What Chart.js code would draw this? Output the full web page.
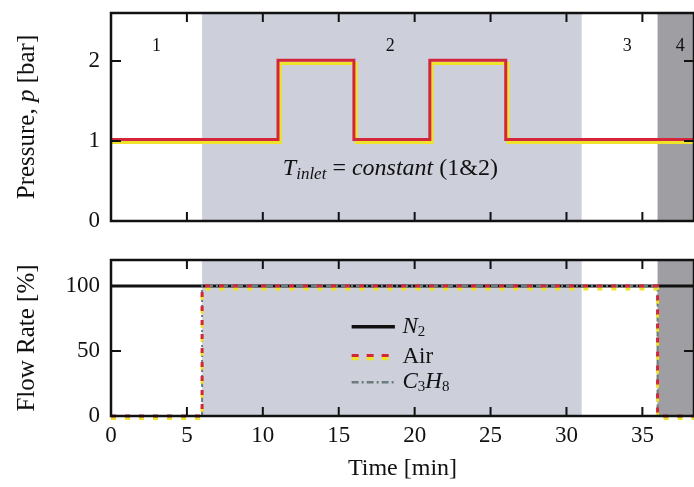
<!DOCTYPE html>
<html>
<head>
<meta charset="utf-8">
<script src="https://cdn.jsdelivr.net/npm/chart.js@4.4.0/dist/chart.umd.min.js"></script>
<style>
body { margin: 0; background: #fff; }
#wrap { position: relative; width: 694px; height: 487px; }
#top { position: absolute; left: 0; top: 0; width: 694px; height: 240px; }
#bot { position: absolute; left: 0; top: 240px; width: 694px; height: 247px; }
</style>
</head>
<body>
<div id="wrap">
  <div id="top"><canvas id="pressure"></canvas></div>
  <div id="bot"><canvas id="flow"></canvas></div>
</div>
<script>
// values
var pressureTimes = [0, 11, 16, 21, 26, 38.4];
var pressureRed = [1.02, 2.01, 1.02, 2.01, 1.02, 1.02];
var pressureYellowTimes = [0, 11.15, 16.15, 21.15, 26.15, 38.4];
var pressureYellow = [0.98, 1.97, 0.98, 1.97, 0.98, 0.98];

var flowTimes = [0, 6, 36, 38.4];
var flowN2 = [100, 100, 100, 100];
var flowAir = [0, 100, 0, 0];
var flowAirYellow = [-2, 97.7, -2, -2];
var flowC3H8 = [0, 100, 0, 0];

var timeTicks = [0, 5, 10, 15, 20, 25, 30, 35];
var pressureTicks = [0, 1, 2];
var flowTicks = [0, 50, 100];

var phaseStart = [6, 36];
var phaseEnd = [31, 38.4];
var phaseNames = ['1', '2', '3', '4'];
var phaseNameTimes = [3, 18.4, 34, 37.5];

var SERIF = '"Liberation Serif", "DejaVu Serif", serif';
var phaseColors = ['#cdcfdb', '#9e9ea3'];

function pts(xs, ys) {
    return xs.map(function (x, i) { return { x: x, y: ys[i] }; });
}

function noPad(s) {
    s.paddingTop = 0; s.paddingBottom = 0; s.paddingLeft = 0; s.paddingRight = 0;
}

function richText(ctx, parts, x, y) {
    var total = 0;
    parts.forEach(function (p) { ctx.font = p.font; total += ctx.measureText(p.t).width; });
    var cx = x - total / 2;
    ctx.textAlign = 'left';
    ctx.textBaseline = 'alphabetic';
    parts.forEach(function (p) {
        ctx.font = p.font;
        ctx.fillText(p.t, cx, y + (p.dy || 0));
        cx += ctx.measureText(p.t).width;
    });
}

function leftText(ctx, parts, x, y) {
    ctx.textAlign = 'left';
    ctx.textBaseline = 'middle';
    var cx = x;
    parts.forEach(function (p) {
        ctx.font = p.font;
        ctx.fillText(p.t, cx, y + (p.dy || 0));
        cx += ctx.measureText(p.t).width;
    });
}

function framePlugin(yTicks, titleParts) {
    return {
        id: 'frame',
        beforeDatasetsDraw: function (chart) {
            var ctx = chart.ctx, a = chart.chartArea, x = chart.scales.x;
            ctx.save();
            phaseStart.forEach(function (s, i) {
                var x0 = x.getPixelForValue(s), x1 = x.getPixelForValue(phaseEnd[i]);
                ctx.fillStyle = phaseColors[i];
                ctx.fillRect(x0, a.top, x1 - x0, a.bottom - a.top);
            });
            ctx.restore();
        },
        afterDraw: function (chart) {
            var ctx = chart.ctx, a = chart.chartArea, x = chart.scales.x, y = chart.scales.y;
            ctx.save();
            ctx.strokeStyle = '#111';
            ctx.lineWidth = 2;
            ctx.beginPath();
            timeTicks.forEach(function (t) {
                var px = x.getPixelForValue(t);
                ctx.moveTo(px, a.bottom); ctx.lineTo(px, a.bottom - 9);
                ctx.moveTo(px, a.top); ctx.lineTo(px, a.top + 9);
            });
            yTicks.forEach(function (v) {
                var py = y.getPixelForValue(v);
                ctx.moveTo(a.left, py); ctx.lineTo(a.left + 10, py);
                ctx.moveTo(a.right, py); ctx.lineTo(a.right - 10, py);
            });
            ctx.stroke();
            ctx.lineWidth = 2.5;
            ctx.strokeRect(a.left, a.top, a.right - a.left, a.bottom - a.top);
            // rotated axis title
            ctx.fillStyle = '#111';
            ctx.translate(25, (a.top + a.bottom) / 2);
            ctx.rotate(-Math.PI / 2);
            richText(ctx, titleParts, 0, 9);
            ctx.restore();
        }
    };
}

var tickFont = { family: SERIF, size: 23 };

// ---------- pressure ----------
new Chart(document.getElementById('pressure'), {
    type: 'line',
    data: {
        datasets: [{
            data: pts(pressureTimes, pressureRed),
            borderColor: '#d3263b',
            borderWidth: 3,
            stepped: 'before',
            pointRadius: 0,
            order: 0
        }, {
            data: pts(pressureYellowTimes, pressureYellow),
            borderColor: '#efe22a',
            borderWidth: 3,
            stepped: 'before',
            pointRadius: 0,
            order: 1
        }]
    },
    options: {
        responsive: true,
        maintainAspectRatio: false,
        animation: false,
        layout: { padding: { top: 13, bottom: 19, left: 0, right: 0 } },
        plugins: { legend: { display: false }, tooltip: { enabled: false } },
        scales: {
            x: { type: 'linear', min: 0, max: 38.4, display: false },
            y: {
                min: 0, max: 2.6,
                afterBuildTicks: function (s) { s.ticks = pressureTicks.map(function (v) { return { value: v }; }); },
                afterFit: function (s) { s.width = 111; noPad(s); },
                ticks: { font: tickFont, color: '#111', padding: 11 },
                grid: { display: false, drawTicks: false },
                border: { display: false }
            }
        }
    },
    plugins: [framePlugin(pressureTicks, [
        { t: 'Pressure, ', font: '25px ' + SERIF },
        { t: 'p', font: 'italic 25px ' + SERIF },
        { t: ' [bar]', font: '25px ' + SERIF }
    ]), {
        id: 'notes',
        afterDraw: function (chart) {
            var ctx = chart.ctx, x = chart.scales.x, y = chart.scales.y;
            ctx.save();
            ctx.fillStyle = '#111';
            ctx.font = '18px ' + SERIF;
            ctx.textAlign = 'center';
            ctx.textBaseline = 'middle';
            phaseNames.forEach(function (n, i) {
                ctx.fillText(n, x.getPixelForValue(phaseNameTimes[i]), y.getPixelForValue(2.18));
            });
            richText(ctx, [
                { t: 'T', font: 'italic 24px ' + SERIF },
                { t: 'inlet', font: 'italic 17px ' + SERIF, dy: 4 },
                { t: ' = ', font: '24px ' + SERIF },
                { t: 'constant', font: 'italic 24px ' + SERIF },
                { t: ' (1&2)', font: '24px ' + SERIF }
            ], x.getPixelForValue(18.4), y.getPixelForValue(0.57));
            ctx.restore();
        }
    }]
});

// ---------- flow rate ----------
new Chart(document.getElementById('flow'), {
    type: 'line',
    data: {
        datasets: [{
            label: 'N2',
            data: pts(flowTimes, flowN2),
            borderColor: '#111',
            borderWidth: 3,
            pointRadius: 0,
            order: 3
        }, {
            label: 'Air',
            data: pts(flowTimes, flowAir),
            borderColor: '#d3263b',
            borderWidth: 3,
            borderDash: [5, 9],
            stepped: 'before',
            pointRadius: 0,
            clip: 5,
            order: 0
        }, {
            label: 'Air (lower edge)',
            data: pts(flowTimes, flowAirYellow),
            borderColor: '#efe22a',
            borderWidth: 3,
            borderDash: [5, 9],
            stepped: 'before',
            pointRadius: 0,
            clip: 5,
            order: 1
        }, {
            label: 'C3H8',
            data: pts(flowTimes, flowC3H8),
            borderColor: '#6b7d7c',
            borderWidth: 2,
            borderDash: [7, 3, 2, 3],
            stepped: 'before',
            pointRadius: 0,
            order: 2
        }]
    },
    options: {
        responsive: true,
        maintainAspectRatio: false,
        animation: false,
        layout: { padding: { top: 20, bottom: 0, left: 0, right: 0 } },
        plugins: { legend: { display: false }, tooltip: { enabled: false } },
        scales: {
            x: {
                type: 'linear', min: 0, max: 38.4,
                afterBuildTicks: function (s) { s.ticks = timeTicks.map(function (v) { return { value: v }; }); },
                afterFit: function (s) { s.height = 71; noPad(s); },
                ticks: { font: tickFont, color: '#111', padding: 6, maxRotation: 0 },
                grid: { display: false, drawTicks: false },
                border: { display: false },
                title: { display: true, text: 'Time [min]', font: { family: SERIF, size: 24 }, color: '#111', padding: { top: 0, bottom: 4 } }
            },
            y: {
                min: 0, max: 120,
                afterBuildTicks: function (s) { s.ticks = flowTicks.map(function (v) { return { value: v }; }); },
                afterFit: function (s) { s.width = 111; noPad(s); },
                ticks: { font: tickFont, color: '#111', padding: 11 },
                grid: { display: false, drawTicks: false },
                border: { display: false }
            }
        }
    },
    plugins: [framePlugin(flowTicks, [
        { t: 'Flow Rate [%]', font: '25px ' + SERIF }
    ]), {
        id: 'legendInside',
        afterDraw: function (chart) {
            var ctx = chart.ctx, x = chart.scales.x, y = chart.scales.y;
            var x0 = x.getPixelForValue(15.85), x1 = x.getPixelForValue(18.7), tx = x.getPixelForValue(19.2);
            var rows = [y.getPixelForValue(68.7), y.getPixelForValue(45.8), y.getPixelForValue(26)];
            ctx.save();
            ctx.lineWidth = 3.5;
            ctx.strokeStyle = '#111';
            ctx.beginPath(); ctx.moveTo(x0, rows[0]); ctx.lineTo(x1, rows[0]); ctx.stroke();
            ctx.setLineDash([7, 8]);
            ctx.strokeStyle = '#efe22a';
            ctx.beginPath(); ctx.moveTo(x0, rows[1] + 2); ctx.lineTo(x1, rows[1] + 2); ctx.stroke();
            ctx.strokeStyle = '#d3263b';
            ctx.lineWidth = 3;
            ctx.beginPath(); ctx.moveTo(x0, rows[1] - 1); ctx.lineTo(x1, rows[1] - 1); ctx.stroke();
            ctx.setLineDash([7, 3, 2, 3]);
            ctx.strokeStyle = '#6b7d7c';
            ctx.lineWidth = 2.5;
            ctx.beginPath(); ctx.moveTo(x0, rows[2]); ctx.lineTo(x1, rows[2]); ctx.stroke();
            ctx.fillStyle = '#111';
            leftText(ctx, [
                { t: 'N', font: 'italic 23px ' + SERIF },
                { t: '2', font: '15px ' + SERIF, dy: 5 }
            ], tx, rows[0]);
            leftText(ctx, [{ t: 'Air', font: '23px ' + SERIF }], tx, rows[1]);
            leftText(ctx, [
                { t: 'C', font: 'italic 23px ' + SERIF },
                { t: '3', font: '15px ' + SERIF, dy: 5 },
                { t: 'H', font: 'italic 23px ' + SERIF },
                { t: '8', font: '15px ' + SERIF, dy: 5 }
            ], tx, rows[2]);
            ctx.restore();
        }
    }]
});
</script>
</body>
</html>
